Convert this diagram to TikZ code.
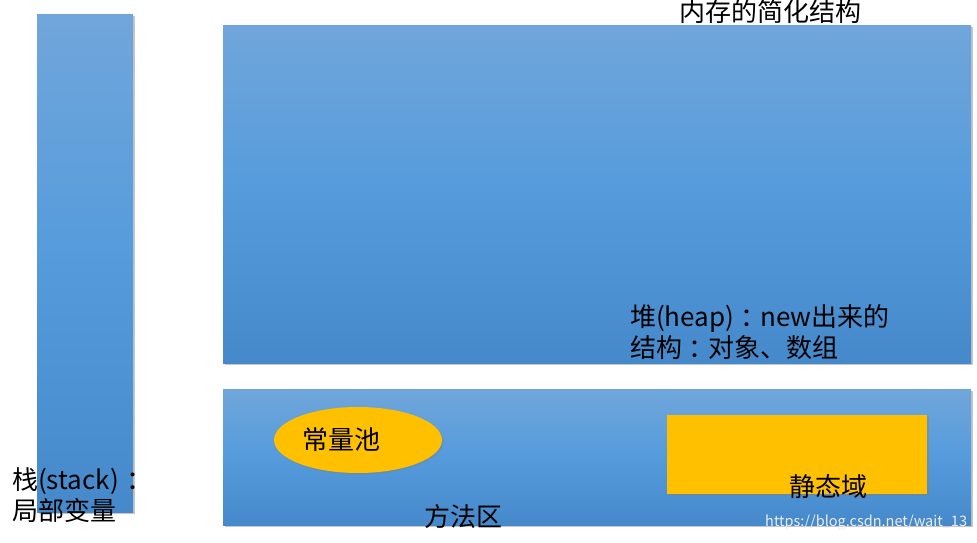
\documentclass[tikz,border=0pt]{standalone}
\usepackage{fontspec}
\setmainfont{Noto Sans CJK SC}
\usetikzlibrary{shapes.geometric,shadows}

\definecolor{blueTop}{HTML}{70A6DB}
\definecolor{blueMid}{HTML}{559BDC}
\definecolor{blueBot}{HTML}{4589CB}
\definecolor{poolGold}{HTML}{FFC000}

\newcommand{\ccolon}{\hspace{0.25em}：\hspace{-0.25em}}

\tikzset{
  membox/.style={rectangle, inner sep=0pt, anchor=north west,
    top color=blueTop, bottom color=blueBot, middle color=blueMid,
    drop shadow={opacity=0.45, shadow xshift=2pt, shadow yshift=-2pt}},
  goldbox/.style={inner sep=0pt, fill=poolGold,
    drop shadow={opacity=0.4, shadow xshift=1.5pt, shadow yshift=-1.5pt}},
  lbl/.style={inner sep=0pt, align=left, font=\fontsize{26}{31}\selectfont},
}

\begin{document}
\begin{tikzpicture}[x=1pt,y=-1pt]
\useasboundingbox (0,0) rectangle (977,543);

% blocks
\node[membox, minimum width=96pt, minimum height=498pt] (stack) at (37,14) {};
\node[membox, minimum width=748pt, minimum height=338pt] (heap) at (223,25) {};
\node[membox, minimum width=748pt, minimum height=136pt] (method) at (223,389) {};

\node[goldbox, ellipse, minimum width=168pt, minimum height=66pt] (pool) at (358,440) {};
\node[goldbox, rectangle, anchor=north west, minimum width=260pt, minimum height=79pt] (static) at (667,415) {};

% texts
\node[lbl] (title) at (770,12) {内存的简化结构};
\node[lbl, anchor=west] (heaptext) at (630,332) {堆(heap)\ccolon new出来的\\结构\ccolon 对象、数组};
\node[lbl, anchor=west] (stacktext) at (12,495) {栈(stack)\hspace{0.3em}：\\局部变量};
\node[lbl] (pooltext) at (341,440) {常量池};
\node[lbl] (statictext) at (828,487) {静态域};
\node[lbl] (methodtext) at (463,517) {方法区};

\node[inner sep=0pt, anchor=west, text=white!85!gray, font=\fontsize{14.5}{16}\selectfont] (mark) at (765,523) {https://blog.csdn.net/wait\_13};

\end{tikzpicture}
\end{document}
